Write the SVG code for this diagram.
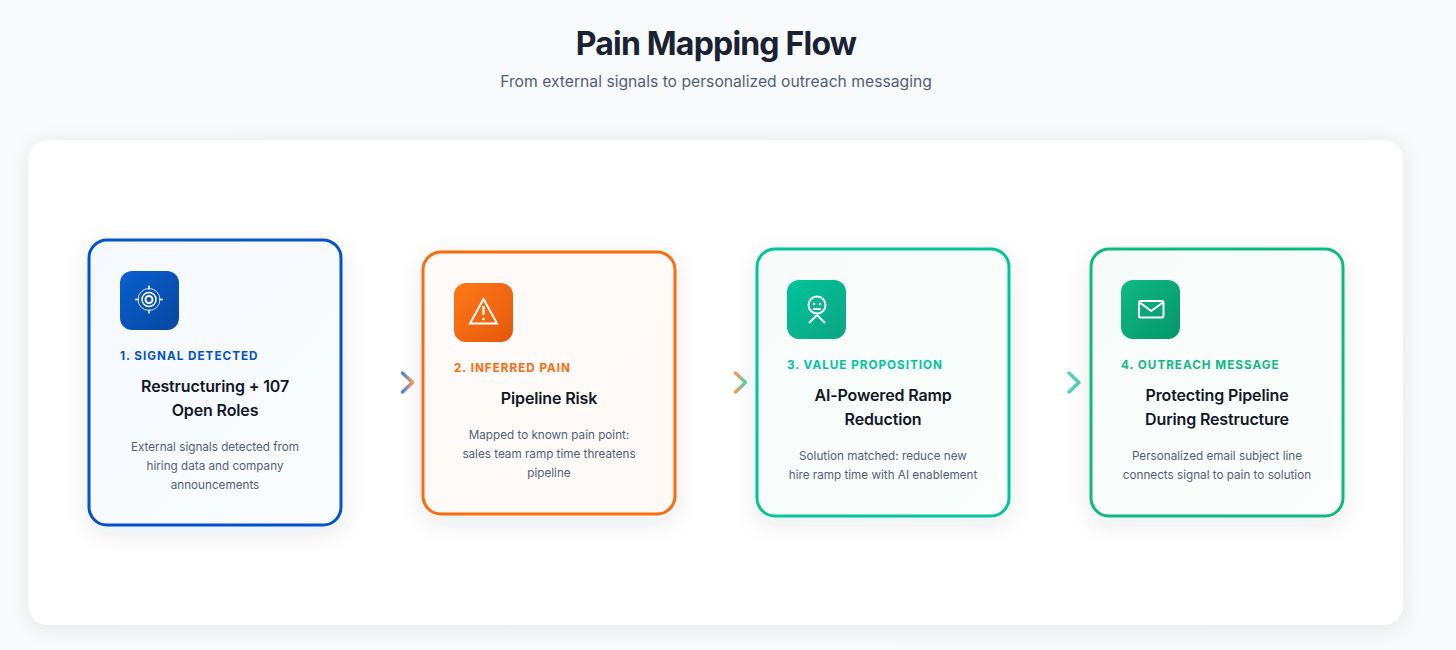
<svg xmlns="http://www.w3.org/2000/svg" width="1456" height="650" viewBox="0 0 1456 650">
<style>
text{font-family:Inter,"Liberation Sans",sans-serif}
.t{font-size:32px;font-weight:700;fill:#1a2233;text-anchor:middle;letter-spacing:-.8px}
.s{font-size:15.700px;fill:#52617a;text-anchor:middle}
.l{font-size:11.700px;font-weight:700;letter-spacing:1px}
.h{font-size:16px;font-weight:600;fill:#111827;text-anchor:middle;letter-spacing:-.14px}
.d{font-size:11.700px;fill:#52617a;text-anchor:middle}
.c{stroke-width:3}
.i{fill:none;stroke:#fff;stroke-width:2}
.a{fill:none;stroke-width:3.500;stroke-linecap:round;stroke-linejoin:round;opacity:.7}
</style>
<defs>
<linearGradient id="bg" x1="0" y1="0" x2="1" y2="1"><stop offset="0" stop-color="#f9fafc"/><stop offset="1" stop-color="#f7f9fb"/></linearGradient>
<linearGradient id="f1" x1="0" y1="0" x2="1" y2="1"><stop offset="0" stop-color="#f5f8fd"/><stop offset="1" stop-color="#fafcfe"/></linearGradient>
<linearGradient id="f2" x1="0" y1="0" x2="1" y2="1"><stop offset="0" stop-color="#fdfafa"/><stop offset="1" stop-color="#fffaf7"/></linearGradient>
<linearGradient id="f3" x1="0" y1="0" x2="1" y2="1"><stop offset="0" stop-color="#f6fbfa"/><stop offset="1" stop-color="#fbfefd"/></linearGradient>
<linearGradient id="i1" x1="0" y1="0" x2="1" y2="1"><stop offset="0" stop-color="#0a5fcf"/><stop offset="1" stop-color="#0747a0"/></linearGradient>
<linearGradient id="i2" x1="0" y1="0" x2="1" y2="1"><stop offset="0" stop-color="#ff7a18"/><stop offset="1" stop-color="#e5570c"/></linearGradient>
<linearGradient id="i3" x1="0" y1="0" x2="1" y2="1"><stop offset="0" stop-color="#00c49a"/><stop offset="1" stop-color="#0ca583"/></linearGradient>
<linearGradient id="i4" x1="0" y1="0" x2="1" y2="1"><stop offset="0" stop-color="#10b981"/><stop offset="1" stop-color="#059669"/></linearGradient>
<linearGradient id="a1" x1="0" y1="0" x2="1" y2="0"><stop offset="0" stop-color="#0052cc"/><stop offset="1" stop-color="#ff6b0a"/></linearGradient>
<linearGradient id="a2" x1="0" y1="0" x2="1" y2="0"><stop offset="0" stop-color="#ff6b0a"/><stop offset="1" stop-color="#00c49a"/></linearGradient>
<linearGradient id="a3" x1="0" y1="0" x2="1" y2="0"><stop offset="0" stop-color="#00c49a"/><stop offset="1" stop-color="#10b981"/></linearGradient>
<filter id="sp" x="-5%" y="-10%" width="110%" height="120%"><feDropShadow dx="0" dy="3" stdDeviation="10" flood-color="#1e293b" flood-opacity=".07"/></filter>
<filter id="sc" x="-20%" y="-20%" width="140%" height="140%"><feDropShadow dx="0" dy="7" stdDeviation="12" flood-color="#1e293b" flood-opacity=".09"/></filter>
</defs>
<rect width="1456" height="650" fill="url(#bg)"/>
<text class="t" x="716" y="55">Pain Mapping Flow</text>
<text class="s" x="716" y="87">From external signals to personalized outreach messaging</text>
<rect id="panel" x="28.500" y="140" width="1374.500" height="485" rx="20" fill="#fff" filter="url(#sp)"/>
<g id="connectors">
<path class="a" stroke="url(#a1)" d="M402.500 373L412.500 382.500L402.500 392"/>
<path class="a" stroke="url(#a2)" d="M735.500 373L745.500 382.500L735.500 392"/>
<path class="a" stroke="url(#a3)" d="M1069 373L1079 382.500L1069 392"/>
</g>
<g id="node1">
<rect class="c" x="89" y="240" width="252" height="285" rx="18" fill="url(#f1)" stroke="#0052cc" filter="url(#sc)"/>
<rect x="120" y="271" width="59" height="59" rx="12" fill="url(#i1)"/>
<g class="i">
<circle cx="149" cy="299.500" r="3.500" stroke-width="2"/><circle cx="149" cy="299.500" r="7" stroke-width="1.500"/><circle cx="149" cy="299.500" r="11" stroke-width="1" opacity=".8"/>
<path d="M149 285.500v4M149 309.500v4M135 299.500h4M159 299.500h4" stroke-width="1.500"/>
</g>
<text class="l" x="120" y="360" fill="#0052cc">1. SIGNAL DETECTED</text>
<text class="h" x="215" y="392">Restructuring + 107</text>
<text class="h" x="215" y="416">Open Roles</text>
<text class="d" x="215" y="451">External signals detected from</text>
<text class="d" x="215" y="470">hiring data and company</text>
<text class="d" x="215" y="489">announcements</text>
</g>
<g id="node2">
<rect class="c" x="423" y="252" width="252" height="262" rx="18" fill="url(#f2)" stroke="#ff6b0a" filter="url(#sc)"/>
<rect x="454" y="283" width="59" height="59" rx="12" fill="url(#i2)"/>
<path class="i" stroke-width="2.200" d="M483.500 299L497 323.500H470Z"/>
<path d="M483.500 306v9" stroke="#fff" stroke-width="2.200" fill="none"/><circle cx="483.500" cy="319" r="1.300" fill="#fff"/>
<text class="l" x="454" y="372" fill="#ff6b0a">2. INFERRED PAIN</text>
<text class="h" x="549" y="404">Pipeline Risk</text>
<text class="d" x="549" y="439">Mapped to known pain point:</text>
<text class="d" x="549" y="458">sales team ramp time threatens</text>
<text class="d" x="549" y="477">pipeline</text>
</g>
<g id="node3">
<rect class="c" x="757" y="249" width="252" height="267" rx="18" fill="url(#f3)" stroke="#00c49a" filter="url(#sc)"/>
<rect x="787" y="280" width="59" height="59" rx="12" fill="url(#i3)"/>
<circle class="i" cx="817" cy="305" r="8.500" stroke-width="1.700"/>
<circle cx="814" cy="304" r="1.300" fill="#fff"/><circle cx="820" cy="304" r="1.300" fill="#fff"/>
<path class="i" stroke-width="1.700" d="M813 309h8M817 315L809 323M817 315L825 323"/>
<text class="l" x="787" y="369" fill="#00c49a">3. VALUE PROPOSITION</text>
<text class="h" x="883" y="401">AI-Powered Ramp</text>
<text class="h" x="883" y="425">Reduction</text>
<text class="d" x="883" y="460">Solution matched: reduce new</text>
<text class="d" x="883" y="479">hire ramp time with AI enablement</text>
</g>
<g id="node4">
<rect class="c" x="1091" y="249" width="252" height="267" rx="18" fill="url(#f3)" stroke="#10b981" filter="url(#sc)"/>
<rect x="1121" y="280" width="59" height="59" rx="12" fill="url(#i4)"/>
<rect class="i" x="1139" y="301" width="24.500" height="16.500" rx="1.500" stroke-width="1.500"/>
<path class="i" stroke-width="1.500" d="M1139 302L1151.250 311L1163.500 302"/>
<text class="l" x="1121" y="369" fill="#10b981">4. OUTREACH MESSAGE</text>
<text class="h" x="1217" y="401">Protecting Pipeline</text>
<text class="h" x="1217" y="425">During Restructure</text>
<text class="d" x="1217" y="460">Personalized email subject line</text>
<text class="d" x="1217" y="479">connects signal to pain to solution</text>
</g>
</svg>
